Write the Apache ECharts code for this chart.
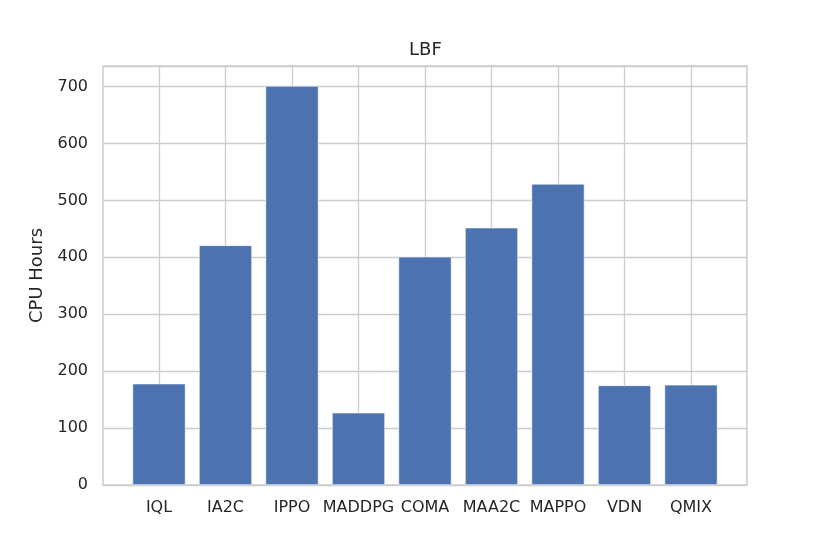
<!DOCTYPE html>
<html>
<head>
<meta charset="utf-8">
<script src="https://cdn.jsdelivr.net/npm/echarts@6/dist/echarts.min.js"></script>
<style>
  html, body { margin: 0; padding: 0; background: #fff; }
  #chart { width: 830px; height: 554px; }
</style>
</head>
<body>
<div id="chart"></div>
<script>
// data
const algorithms = ['IQL', 'IA2C', 'IPPO', 'MADDPG', 'COMA', 'MAA2C', 'MAPPO', 'VDN', 'QMIX']
const cpuHours = [178, 421, 701, 127, 401, 452, 529, 175, 176]
const yTicks = [0, 100, 200, 300, 400, 500, 600, 700]

const yMax = 736
const gridColor = '#cccccc'
const textColor = '#262626'
const barColor = '#4c72b0'
const font = 'DejaVu Sans'

const chart = echarts.init(document.getElementById('chart'), null, { renderer: 'canvas' })

chart.setOption({
  animation: false,
  backgroundColor: '#ffffff',
  title: {
    text: 'LBF',
    left: 409,
    top: 41,
    padding: 0,
    textStyle: { color: textColor, fontWeight: 'normal', fontSize: 18, fontFamily: font }
  },
  grid: [
    // frame + y axis
    { left: 103, right: 83, top: 66, bottom: 69, show: true, borderColor: gridColor, borderWidth: 1.5, backgroundColor: 'transparent' },
    // bars, centred on integer positions 0..8
    { left: 159, right: 139, top: 66, bottom: 69 }
  ],
  xAxis: [
    { gridIndex: 0, type: 'value', show: false, min: 0, max: 1 },
    {
      gridIndex: 1,
      type: 'value',
      min: 0,
      max: algorithms.length - 1,
      interval: 1,
      axisLine: { show: false },
      axisTick: { show: false },
      axisLabel: {
        margin: 15,
        color: textColor,
        fontSize: 16,
        fontFamily: font,
        formatter: v => algorithms[v] || ''
      },
      splitLine: { show: true, lineStyle: { color: gridColor, width: 1.3 } }
    }
  ],
  yAxis: [
    {
      gridIndex: 0,
      type: 'value',
      min: 0,
      max: yMax,
      interval: 100,
      name: 'CPU Hours',
      nameLocation: 'middle',
      nameGap: 56,
      nameTextStyle: { color: textColor, fontSize: 18, fontFamily: font },
      axisLine: { show: false },
      axisTick: { show: false },
      axisLabel: {
        margin: 15,
        color: textColor,
        fontSize: 16,
        fontFamily: font,
        showMaxLabel: false,
        formatter: v => (yTicks.indexOf(v) >= 0 ? String(v) : '')
      },
      splitLine: { show: true, lineStyle: { color: gridColor, width: 1.3 } }
    },
    { gridIndex: 1, type: 'value', min: 0, max: yMax, show: false, splitLine: { show: false } }
  ],
  series: [{
    type: 'bar',
    xAxisIndex: 1,
    yAxisIndex: 1,
    clip: false,
    barWidth: 53,
    data: cpuHours.map((v, i) => [i, v]),
    itemStyle: { color: barColor, borderColor: '#ffffff', borderWidth: 0.6 }
  }]
})
</script>
</body>
</html>
